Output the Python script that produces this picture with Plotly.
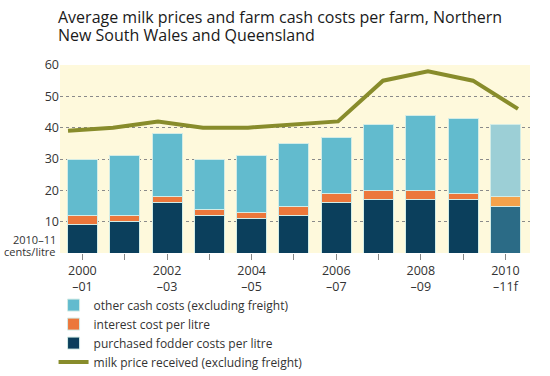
import plotly.graph_objects as go

# ---- data ----
years = ["2000–01", "2001–02", "2002–03", "2003–04", "2004–05", "2005–06",
         "2006–07", "2007–08", "2008–09", "2009–10", "2010–11f"]
tick_labels = ["2000<br>–01", "", "2002<br>–03", "", "2004<br>–05", "",
               "2006<br>–07", "", "2008<br>–09", "", "2010<br>–11f"]
fodder = [9, 10, 16, 12, 11, 12, 16, 17, 17, 17, 15]
interest = [3, 2, 2, 2, 2, 3, 3, 3, 3, 2, 3]
other = [18, 19, 20, 16, 18, 20, 18, 21, 24, 24, 23]
milk = [39, 40, 42, 40, 40, 41, 42, 55, 58, 55, 46]
y_ticks = [0, 10, 20, 30, 40, 50, 60]
y_ticktext = ["", "10", "20", "30", "40", "50", "60"]
title_lines = ["Average milk prices and farm cash costs per farm, Northern",
               "New South Wales and Queensland"]
unit_lines = ["2010–11", "cents/litre"]

n = len(years)
def colors(normal, forecast):
    return [normal] * (n - 1) + [forecast]

FONT = "Open Sans"
edge = dict(color="#d3ece6", width=1)

fig = go.Figure()
fig.add_trace(go.Bar(x=years, y=fodder, name="purchased fodder costs per litre",
                     marker=dict(color=colors("#0b3f5c", "#2b6b86"), line=edge),
                     width=0.71, legendrank=3))
fig.add_trace(go.Bar(x=years, y=interest, name="interest cost per litre",
                     marker=dict(color=colors("#ec773b", "#f4a24b"), line=edge),
                     width=0.71, legendrank=2))
fig.add_trace(go.Bar(x=years, y=other, name="other cash costs (excluding freight)",
                     marker=dict(color=colors("#62bbce", "#9ccfd6"), line=edge),
                     width=0.71, legendrank=1))
fig.add_trace(go.Scatter(x=years, y=milk, name="milk price received (excluding freight)",
                         mode="lines", line=dict(color="#888c2b", width=4),
                         xaxis="x2", legendrank=4))

PH = 376 - 65 - 123  # plot height in px

fig.update_layout(
    width=550, height=376,
    margin=dict(l=60, r=20, t=65, b=123, autoexpand=False),
    paper_bgcolor="white", plot_bgcolor="#fef9dc",
    barmode="stack", bargap=0.29,
    font=dict(family=FONT, size=12, color="#333333"),
    xaxis=dict(type="category", categoryarray=years, range=[-0.53, 10.58],
               tickvals=years, ticktext=tick_labels, ticks="outside", ticklen=6,
               tickcolor="#888888", showgrid=False, zeroline=False, showline=False,
               tickfont=dict(size=12.5, color="#333333")),
    xaxis2=dict(type="category", categoryarray=years, overlaying="x",
                range=[-0.178, 10.267], visible=False),
    yaxis=dict(range=[0, 60], tickvals=y_ticks, ticktext=y_ticktext,
               showgrid=True, gridcolor="#8a8a8a", griddash="dot", gridwidth=1,
               zeroline=False, showline=False, ticks="",
               tickfont=dict(size=12.5, color="#333333")),
    legend=dict(x=-0.0137, xanchor="left", y=-0.2, yanchor="top",
                traceorder="normal", bgcolor="rgba(0,0,0,0)",
                font=dict(size=12, color="#333333"), tracegroupgap=0),
    showlegend=True,
)
# title lines
for line, ypx in zip(title_lines, [17, 35]):
    fig.add_annotation(text=line, xref="paper", yref="paper", x=-0.0064,
                       y=1 + (65 - ypx) / PH, xanchor="left", yanchor="middle",
                       showarrow=False, borderpad=0,
                       font=dict(family=FONT, size=16, color="#1a1a1a"))
# unit label in place of the zero tick
for line, ypx in zip(unit_lines, [239, 251]):
    fig.add_annotation(text=line, xref="paper", yref="paper", x=-0.006,
                       y=(253 - ypx) / PH, xanchor="right", yanchor="middle",
                       showarrow=False, borderpad=0,
                       font=dict(size=11, color="#333333"))

fig.write_html("out.html", config={"displayModeBar": False},
               post_script="document.body.style.margin='0';")
